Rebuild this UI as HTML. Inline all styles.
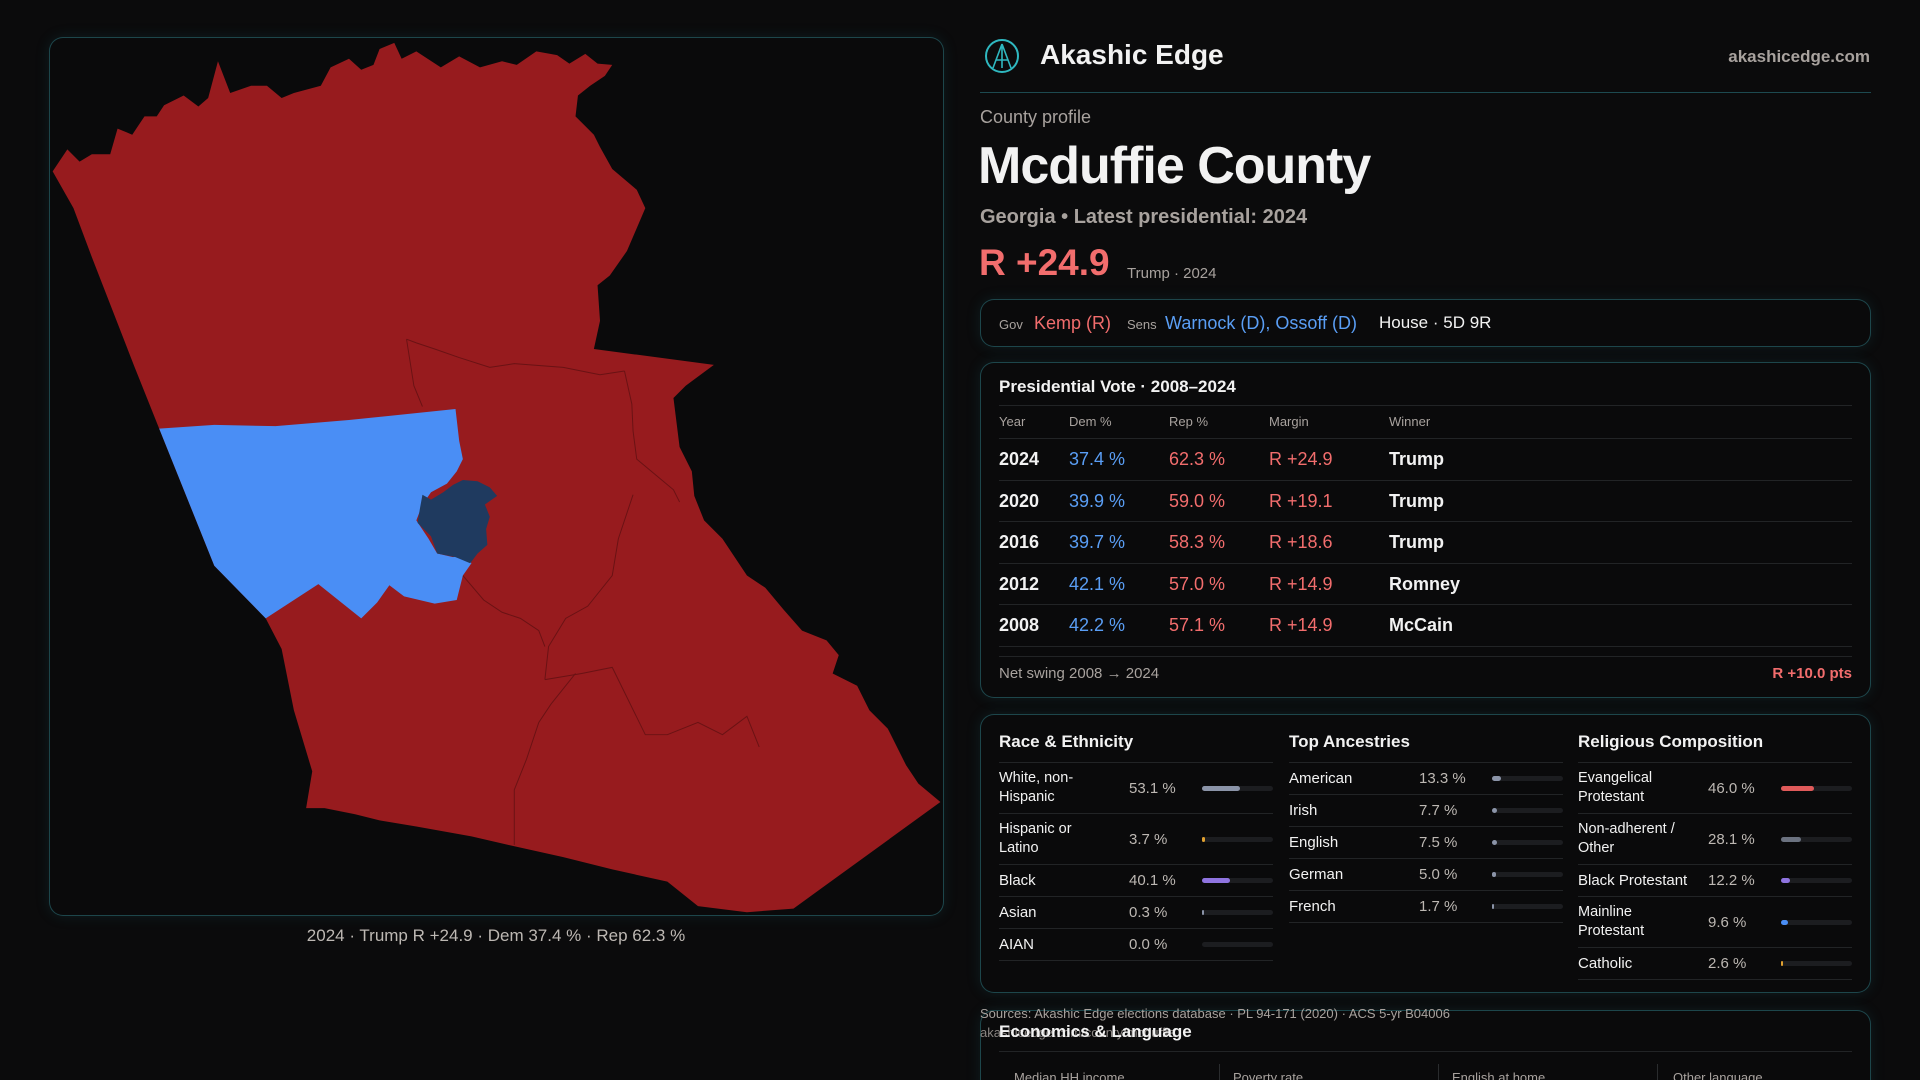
<!DOCTYPE html>
<html><head><meta charset="utf-8"><style>
*{margin:0;padding:0;box-sizing:border-box}
html{height:1080px;overflow:hidden}
body{width:1920px;height:1080px;background:#0b0b0c;font-family:"Liberation Sans",sans-serif;color:#f2f2f2;position:relative;overflow:hidden}
.abs{position:absolute;white-space:nowrap}
.panel{position:absolute;border:1px solid rgba(45,120,130,0.55);border-radius:14px;background:#0a0a0b;box-shadow:0 0 14px rgba(30,110,120,0.18)}
.grey{color:#a8a29e}
.red{color:#f26d6d}.blue{color:#5a9ef5}
.hl{position:absolute;height:1px;background:#222426}
.col{position:absolute;width:274px}
.row{display:flex;align-items:center;border-bottom:1px solid #222426;font-size:15px}
.row .lab{flex:none;width:130px;padding-right:16px;line-height:19px;color:#f2f2f2;white-space:normal}
.row .val{flex:none;width:73px;color:#bdb8b3}
.row .bar{flex:none;width:71px;height:5px;border-radius:3px;background:#1c1d20;position:relative}
.row .bar i{position:absolute;left:0;top:0;height:5px;border-radius:3px;display:block}
.colh{font-size:17px;font-weight:bold;height:40px;border-bottom:1px solid #222426;line-height:38px}
</style></head><body>

<div class="panel" style="left:49px;top:37px;width:895px;height:879px"></div>
<svg class="abs" style="left:0;top:0" width="1920" height="1080" viewBox="0 0 1568 882">
<path fill="#971b1e" d="M43,140 L55,122 65,132 75,126 90,126 96,105 108,110 118,95 128,95 134,86 150,78 162,87 170,80 178,50 188,76 205,70 218,70 230,80 240,76 262,70 270,55 285,48 295,57 305,53 310,40 322,35 328,48 340,42 360,55 375,46 392,55 410,50 422,53 438,42 455,45 465,52 478,44 488,52 500,53 494,62 482,70 472,78 470,95 485,110 490,120 500,138 520,155 527,170 512,205 498,225 488,233 490,262 485,285 583,298 560,315 550,325 555,365 565,385 567,405 575,425 590,440 600,455 610,470 625,480 640,498 655,515 675,523 685,535 680,550 700,560 710,580 725,595 740,625 750,640 768,655 648,742 610,745 570,740 545,720 500,710 460,700 415,690 385,683 340,675 310,670 290,665 265,660 250,660 255,630 240,580 230,530 217,505 175,462 130,350 110,300 75,210 60,170 Z"/>
<g fill="none" stroke="#6a1214" stroke-width="0.8">
<path d="M332,277 L340,280 L355,285 L375,292 L400,300 L420,297 L460,300 L490,306 L510,303"/>
<path d="M332,277 L338,315 L345,332"/>
<path d="M510,303 L516,330 L517,352 L520,375 L550,400 L555,410"/>
<path d="M517,404 L505,440 L500,470 L480,495 L462,505 L448,528 L445,555"/>
<path d="M445,555 L475,550 L500,545 L527,600 L545,600 L570,590 L590,600 L610,585 L620,610"/>
<path d="M470,550 L450,575 L440,590 L430,620 L420,645 L420,690"/>
<path d="M378,470 L395,490 L410,500 L425,505 L440,515 L445,528"/>
</g>
<path fill="#4a8ef5" d="M130,350 L175,347 L225,348 L285,343 L372,334 L375,360 L378,375 L373,385 L365,395 L352,402 L345,412 L340,425 L350,440 L357,452 L370,455 L380,452 L385,460 L378,470 L373,490 L355,493 L330,487 L318,478 L308,492 L295,505 L260,477 L217,505 L175,462 Z"/>
<path fill="#1f3a5f" d="M362,402 L370,396 L378,392 L390,393 L400,398 L406,405 L396,412 L400,422 L397,432 L398,445 L390,452 L384,460 L372,455 L357,452 L352,438 L346,432 L341,427 L343,415 L345,404 L352,408 Z"/>
</svg>
<div class="abs" style="left:0;width:992px;top:926px;text-align:center;font-size:17px;color:#bdb8b3">2024 · Trump R +24.9 · Dem 37.4 % · Rep 62.3 %</div>

<svg class="abs" style="left:984px;top:38px" width="36" height="36" viewBox="0 0 36 36"><circle cx="18" cy="18" r="16" fill="none" stroke="#2fb8c0" stroke-width="2"/><path d="M18,6 L9,30 M18,6 L27,30 M12,22 L24,22 M18,6 L18,30" stroke="#2fb8c0" stroke-width="1.6" fill="none"/></svg>
<div class="abs" style="left:1040px;top:39px;font-size:28px;font-weight:bold">Akashic Edge</div>
<div class="abs grey" style="right:50px;top:47px;font-size:17px;font-weight:bold">akashicedge.com</div>
<div class="hl" style="left:980px;top:92px;width:891px;background:#1d4a50"></div>
<div class="abs grey" style="left:980px;top:107px;font-size:18px">County profile</div>
<div class="abs" style="left:978px;top:136px;font-size:52px;font-weight:bold;letter-spacing:-1px">Mcduffie County</div>
<div class="abs grey" style="left:980px;top:206px;font-size:20px;font-weight:bold">Georgia • Latest presidential: 2024</div>
<div class="abs red" style="left:979px;top:242px;font-size:37px;font-weight:bold">R +24.9</div>
<div class="abs grey" style="left:1127px;top:265px;font-size:15px">Trump · 2024</div>

<div class="panel" style="left:980px;top:299px;width:891px;height:48px"></div>
<div class="abs grey" style="left:999px;top:317px;font-size:13px">Gov</div>
<div class="abs red" style="left:1034px;top:313px;font-size:18px">Kemp (R)</div>
<div class="abs grey" style="left:1127px;top:317px;font-size:13px">Sens</div>
<div class="abs blue" style="left:1165px;top:313px;font-size:18px">Warnock (D), Ossoff (D)</div>
<div class="abs" style="left:1379px;top:313px;font-size:17px">House · 5D 9R</div>

<div class="panel" style="left:980px;top:362px;width:891px;height:336px"></div>
<div class="abs" style="left:999px;top:377px;font-size:17px;font-weight:bold">Presidential Vote · 2008–2024</div>
<div class="hl" style="left:999px;top:405px;width:853px"></div>
<div id="pres"></div>
<div class="hl" style="left:999px;top:656px;width:853px"></div>
<div class="abs grey" style="left:999px;top:665px;font-size:15px">Net swing 2008 → 2024</div>
<div class="abs red" style="right:68px;top:665px;font-size:15px;font-weight:bold">R +10.0 pts</div>

<div class="panel" style="left:980px;top:714px;width:891px;height:279px"></div>
<div id="demo"></div>

<div class="panel" style="left:980px;top:1010px;width:891px;height:90px"></div>
<div class="abs grey" style="left:980px;top:1006px;font-size:13px">Sources: Akashic Edge elections database · PL 94-171 (2020) · ACS 5-yr B04006</div>
<div class="abs" style="left:980px;top:1025px;font-size:13px;color:#8a8582">akashicedge.com/county/mcduffie</div>
<div class="abs" style="left:999px;top:1022px;font-size:17px;font-weight:bold">Economics &amp; Language</div>
<div class="hl" style="left:999px;top:1051px;width:853px"></div>
<div class="abs grey" style="left:1014px;top:1070px;font-size:13px">Median HH income</div>
<div class="abs grey" style="left:1233px;top:1070px;font-size:13px">Poverty rate</div>
<div class="abs grey" style="left:1452px;top:1070px;font-size:13px">English at home</div>
<div class="abs grey" style="left:1673px;top:1070px;font-size:13px">Other language</div>
<div class="abs" style="left:1219px;top:1064px;width:1px;height:20px;background:#2a2c2e"></div>
<div class="abs" style="left:1438px;top:1064px;width:1px;height:20px;background:#2a2c2e"></div>
<div class="abs" style="left:1657px;top:1064px;width:1px;height:20px;background:#2a2c2e"></div>

<script>
const presYears=["2024","2020","2016","2012","2008"];
const presDem=[37.4,39.9,39.7,42.1,42.2];
const presRep=[62.3,59.0,58.3,57.0,57.1];
const presWinner=["Trump","Trump","Trump","Romney","McCain"];

const raceLabels=["White, non-Hispanic","Hispanic or Latino","Black","Asian","AIAN"];
const raceValues=[53.1,3.7,40.1,0.3,0.0];
const raceColors=["#8b94a8","#e0a030","#8f74e0","#8b94a8","#8b94a8"];
const ancLabels=["American","Irish","English","German","French"];
const ancValues=[13.3,7.7,7.5,5.0,1.7];
const ancColors=["#8b94a8","#8b94a8","#8b94a8","#8b94a8","#8b94a8"];
const relLabels=["Evangelical Protestant","Non-adherent / Other","Black Protestant","Mainline Protestant","Catholic"];
const relValues=[46.0,28.1,12.2,9.6,2.6];
const relColors=["#e05a5a","#6b7280","#8f74e0","#4a8ef5","#e0a030"];

const pres=document.getElementById('pres');
const hdr=[["Year",999],["Dem %",1069],["Rep %",1169],["Margin",1269],["Winner",1389]];
hdr.forEach(h=>{const d=document.createElement('div');d.className='abs grey';d.style.cssText=`left:${h[1]}px;top:414px;font-size:13px`;d.textContent=h[0];


pres.appendChild(d);});
const ln=document.createElement('div');ln.className='hl';ln.style.cssText='left:999px;top:438px;width:853px';pres.appendChild(ln);
presYears.forEach((y,i)=>{
  const top=438+i*41.5;
  const m=presRep[i]-presDem[i];
  const cells=[[y,999,'#f2f2f2'],[presDem[i].toFixed(1)+' %',1069,'#5a9ef5'],[presRep[i].toFixed(1)+' %',1169,'#f26d6d'],[(m>=0?'R +':'D +')+Math.abs(m).toFixed(1),1269,'#f26d6d'],[presWinner[i],1389,'#f2f2f2']];
  cells.forEach(c=>{const d=document.createElement('div');d.className='abs';d.style.cssText=`left:${c[1]}px;top:${top+11}px;font-size:18px;color:${c[2]};font-weight:${c[1]==1389||c[1]==999?'bold':'normal'}`;d.textContent=c[0];
  
  
  pres.appendChild(d);});
  const l=document.createElement('div');l.className='hl';l.style.cssText=`left:999px;top:${top+41.5}px;width:853px`;pres.appendChild(l);
});

const demo=document.getElementById('demo');
function col(title,x,labels,values,colors,name){
  const c=document.createElement('div');c.className='col';c.style.left=x+'px';c.style.top='723px';
  
  
  const h=document.createElement('div');h.className='colh';h.textContent=title;c.appendChild(h);
  labels.forEach((lab,i)=>{
    const r=document.createElement('div');r.className='row';
    const two=lab.length>16;
    r.style.height=(two?51:32)+'px';
    
    
    const a=document.createElement('div');a.className='lab';a.textContent=lab;if(two)a.style.fontSize='14.5px';
    const v=document.createElement('div');v.className='val';v.textContent=values[i].toFixed(1)+' %';
    const b=document.createElement('div');b.className='bar';
    const f=document.createElement('i');f.style.width=Math.max(values[i]>0?2:0,values[i]/100*71)+'px';f.style.background=colors[i];
    
    
    b.appendChild(f);r.appendChild(a);r.appendChild(v);r.appendChild(b);c.appendChild(r);
  });
  demo.appendChild(c);
}
col("Race & Ethnicity",999,raceLabels,raceValues,raceColors,'race-column');
col("Top Ancestries",1289,ancLabels,ancValues,ancColors,'ancestry-column');
col("Religious Composition",1578,relLabels,relValues,relColors,'religion-column');
</script>
</body></html>
